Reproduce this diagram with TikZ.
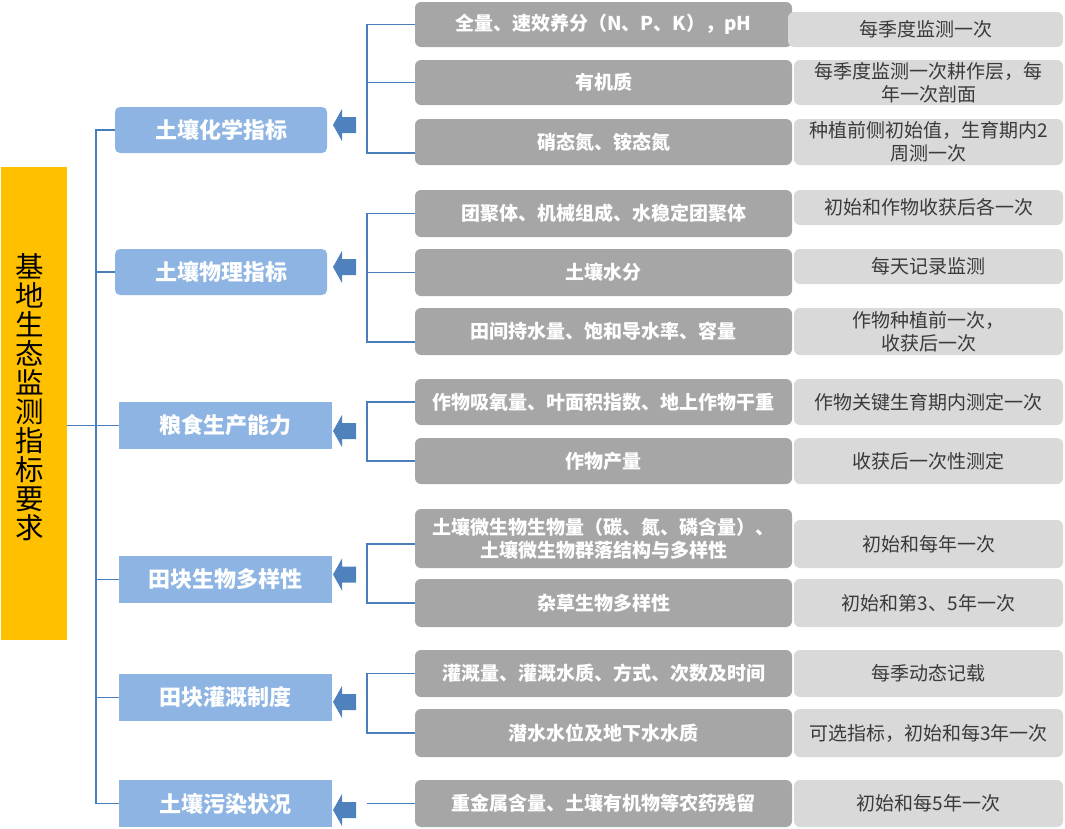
\documentclass[tikz,border=0pt]{standalone}
\usepackage{fontspec}
\setmainfont{Noto Sans CJK SC}
\definecolor{rootc}{HTML}{FFC000}
\definecolor{catc}{HTML}{8DB4E2}
\definecolor{arrc}{HTML}{4F81BD}
\definecolor{linec}{HTML}{4A7EBB}
\definecolor{itemc}{HTML}{A6A6A6}
\definecolor{notec}{HTML}{D9D9D9}
\definecolor{notet}{HTML}{3A3A3A}
\begin{document}
\begin{tikzpicture}[x=1pt,y=-1pt,
  rootbox/.style={fill=rootc, minimum width=66, minimum height=473, inner sep=0},
  roottext/.style={align=center, inner sep=0, font=\fontsize{28.5}{29}\selectfont, text=black},
  cat/.style={fill=catc, text=white, font=\fontsize{22}{24}\selectfont\bfseries,
    minimum width=213, minimum height=47, inner sep=0},
  catr/.style={cat, rounded corners=5},
  item/.style={fill=itemc, text=white, font=\fontsize{19}{22.5}\selectfont\bfseries,
    minimum width=377, minimum height=46, rounded corners=6, inner sep=0, align=center},
  note/.style={fill=notec, text=notet, font=\fontsize{19}{23}\selectfont,
    minimum width=269, minimum height=46, rounded corners=6, inner sep=0, align=center},
  conn/.style={draw=linec, line width=1.8},
  pics/larrow/.style={code={\fill[arrc] (0,0) -- (9,-16) -- (9,-8) -- (23,-8) -- (23,8) -- (9,8) -- (9,16) -- cycle;}}
]
\useasboundingbox (0,0) rectangle (1065,828);

% root
\node[rootbox] (root) at (34,403.5) {};
\node[roottext] (roottxt) at (30,397) {基\\地\\生\\态\\监\\测\\指\\标\\要\\求};

% categories
\node[catr, minimum width=212, minimum height=46] (chem) at (221,130) {土壤化学指标};
\node[catr, minimum width=212, minimum height=46] (phys) at (221,272) {土壤物理指标};
\node[cat] (grain) at (225.5,425.5) {粮食生产能力};
\node[cat] (bio) at (225.5,579.5) {田块生物多样性};
\node[cat] (irr) at (225.5,697.5) {田块灌溉制度};
\node[cat] (poll) at (225.5,803.5) {土壤污染状况};

% items
\node[item, minimum height=45] (i1) at (603.5,24.5) {全量、速效养分（N、P、K），pH};
\node[item, minimum height=45] (i2) at (603.5,82.5) {有机质};
\node[item] (i3) at (603.5,142) {硝态氮、铵态氮};
\node[item, minimum height=47] (i4) at (603.5,213.5) {团聚体、机械组成、水稳定团聚体};
\node[item, minimum height=47] (i5) at (603.5,272.5) {土壤水分};
\node[item, minimum height=47] (i6) at (603.5,331.5) {田间持水量、饱和导水率、容量};
\node[item] (i7) at (603.5,402) {作物吸氧量、叶面积指数、地上作物干重};
\node[item] (i8) at (603.5,461) {作物产量};
\node[item, minimum height=59] (i9) at (603.5,538.5) {土壤微生物生物量（碳、氮、磷含量）、\\土壤微生物群落结构与多样性};
\node[item, minimum height=48] (i10) at (603.5,603) {杂草生物多样性};
\node[item, minimum height=47] (i11) at (603.5,673.5) {灌溉量、灌溉水质、方式、次数及时间};
\node[item, minimum height=48] (i12) at (603.5,733) {潜水水位及地下水水质};
\node[item, minimum height=47] (i13) at (603.5,803.5) {重金属含量、土壤有机物等农药残留};

% notes
\node[note, minimum width=275, minimum height=35] (n1) at (925.5,29.5) {每季度监测一次};
\node[note, minimum height=45] (n2) at (928.5,82.5) {每季度监测一次耕作层，每\\年一次剖面};
\node[note] (n3) at (928.5,142) {种植前侧初始值，生育期内2\\周测一次};
\node[note, minimum height=35] (n4) at (928.5,207.5) {初始和作物收获后各一次};
\node[note, minimum height=35] (n5) at (928.5,266.5) {每天记录监测};
\node[note, minimum height=47] (n6) at (928.5,331.5) {作物种植前一次，\\收获后一次};
\node[note] (n7) at (928.5,402) {作物关键生育期内测定一次};
\node[note] (n8) at (928.5,461) {收获后一次性测定};
\node[note, minimum height=48] (n9) at (928.5,544) {初始和每年一次};
\node[note, minimum height=48] (n10) at (928.5,603) {初始和第3、5年一次};
\node[note, minimum height=47] (n11) at (928.5,673.5) {每季动态记载};
\node[note, minimum height=48] (n12) at (928.5,733) {可选指标，初始和每3年一次};
\node[note, minimum height=47] (n13) at (928.5,803.5) {初始和每5年一次};

% trunk
\coordinate (tr) at (96,0);
\draw[conn] (chem.west) -- (chem.west -| tr) -- (poll.west -| tr) -- (poll.west);
\draw[conn] (phys.west) -- (phys.west -| tr);
\draw[conn] (bio.west) -- (bio.west -| tr);
\draw[conn] (irr.west) -- (irr.west -| tr);
\draw[conn] (root.east |- grain.west) -- (grain.west);

% brackets
\coordinate (bx) at (367,0);
\draw[conn] (i1.west) -- (i1.west -| bx) -- ([yshift=-11pt]i3.west -| bx) -- ([yshift=-11pt]i3.west);
\draw[conn] (i2.west) -- (i2.west -| bx);
\draw[conn] (i4.west) -- (i4.west -| bx) -- ([yshift=-10.5pt]i6.west -| bx) -- ([yshift=-10.5pt]i6.west);
\draw[conn] (i5.west) -- (i5.west -| bx);
\draw[conn] (i7.west) -- (i7.west -| bx) -- (i8.west -| bx) -- (i8.west);
\draw[conn] ([yshift=-5.5pt]i9.west) -- ([yshift=-5.5pt]i9.west -| bx) -- (i10.west -| bx) -- (i10.west);
\draw[conn] (i11.west) -- (i11.west -| bx) -- (i12.west -| bx) -- (i12.west);
\draw[conn] (i13.west) -- (i13.west -| bx);

% block arrows
\pic at (333,125) {larrow};
\pic at (333,267) {larrow};
\pic at (333,431) {larrow};
\pic at (333,574.5) {larrow};
\pic at (333,702) {larrow};
\pic at (333,810) {larrow};
\end{tikzpicture}
\end{document}
